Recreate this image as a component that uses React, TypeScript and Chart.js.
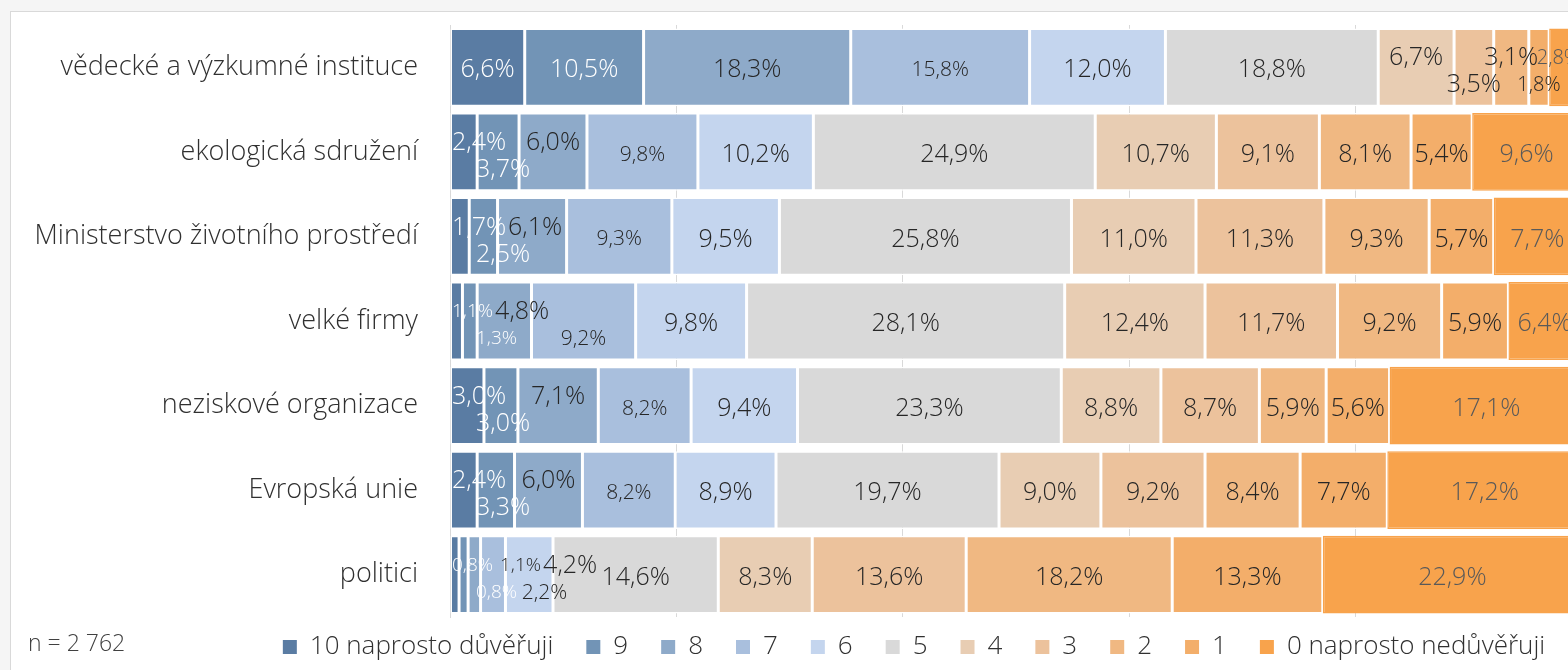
import React, { useEffect, useRef } from "react";
import { Chart, registerables } from "chart.js";

Chart.register(...registerables);

// ---------- data ----------
const categories = [
  "vědecké a výzkumné instituce",
  "ekologická sdružení",
  "Ministerstvo životního prostředí",
  "velké firmy",
  "neziskové organizace",
  "Evropská unie",
  "politici",
];

const seriesNames = [
  "10 naprosto důvěřuji",
  "9",
  "8",
  "7",
  "6",
  "5",
  "4",
  "3",
  "2",
  "1",
  "0 naprosto nedůvěřuji",
];

const s10 = [6.6, 2.4, 1.7, 1.1, 3.0, 2.4, 0.8];
const s9 = [10.5, 3.7, 2.5, 1.3, 3.0, 3.3, 0.8];
const s8 = [18.3, 6.0, 6.1, 4.8, 7.1, 6.0, 1.1];
const s7 = [15.8, 9.8, 9.3, 9.2, 8.2, 8.2, 2.2];
const s6 = [12.0, 10.2, 9.5, 9.8, 9.4, 8.9, 4.2];
const s5 = [18.8, 24.9, 25.8, 28.1, 23.3, 19.7, 14.6];
const s4 = [6.7, 10.7, 11.0, 12.4, 8.8, 9.0, 8.3];
const s3 = [3.5, 9.1, 11.3, 11.7, 8.7, 9.2, 13.6];
const s2 = [3.1, 8.1, 9.3, 9.2, 5.9, 8.4, 18.2];
const s1 = [1.8, 5.4, 5.7, 5.9, 5.6, 7.7, 13.3];
const s0 = [2.8, 9.6, 7.7, 6.4, 17.1, 17.2, 22.9];

const seriesValues = [s10, s9, s8, s7, s6, s5, s4, s3, s2, s1, s0];

const sampleNote = "n = 2 762";

// ---------- styles ----------
const colors = [
  "#5a7ca3",
  "#7294b6",
  "#8eaac9",
  "#a9bfdd",
  "#c4d5ee",
  "#d9d9d9",
  "#e8cdb3",
  "#ecc29c",
  "#f0b882",
  "#f3ae6a",
  "#f8a34c",
];
const labelColors = [
  "#ffffff",
  "#ffffff",
  "#262626",
  "#262626",
  "#262626",
  "#262626",
  "#262626",
  "#262626",
  "#262626",
  "#262626",
  "#595959",
];
const FONT = '"Open Sans", "Noto Sans", sans-serif';
const WEIGHT = "300";

const CANVAS_W = 1806;
const CANVAS_H = 680;

function fmt(v: number) {
  return v.toFixed(1).replace(".", ",") + "%";
}

function labelSize(i: number, v: number) {
  if (v < 1.5) return 19;
  if (i === 3) return 21;
  if (i === 10 && v < 3) return 20;
  if (i === 9 && v < 2) return 20;
  return 25;
}

const segLabels = {
  id: "segLabels",
  afterDatasetsDraw(chart: any) {
    const ctx = chart.ctx;
    const area = chart.chartArea;
    ctx.save();
    ctx.textAlign = "center";
    ctx.textBaseline = "middle";
    for (let r = 0; r < categories.length; r++) {
      const items: any[] = [];
      chart.data.datasets.forEach((ds: any, i: number) => {
        const el = chart.getDatasetMeta(i).data[r];
        const v = ds.data[r];
        const x0 = Math.min(el.x, el.base);
        const x1 = Math.max(el.x, el.base);
        const size = labelSize(i, v);
        ctx.font = `${WEIGHT} ${size}px ${FONT}`;
        const text = fmt(v);
        const w = ctx.measureText(text).width;
        const seg = x1 - x0 - 3;
        items.push({ i, v, text, size, w, cx: (x0 + x1) / 2, y: el.y, overflow: seg < w + 6 });
      });
      const shift = items.map(() => false);
      let k = 0;
      while (k < items.length) {
        if (!items[k].overflow) {
          k++;
          continue;
        }
        let e = k;
        while (e + 1 < items.length && items[e + 1].overflow) e++;
        if (e > k) {
          for (let m = k; m <= e; m++) shift[m] = true;
          if (k - 1 >= 0 && items[k - 1].v < 10) shift[k - 1] = true;
          if (e + 1 < items.length && items[e + 1].v < 10) shift[e + 1] = true;
        }
        k = e + 1;
      }
      const laneRight = [area.left, area.left];
      let prevCx = -Infinity;
      items.forEach((it, idx) => {
        let cx = it.cx;
        let dy = 3;
        if (shift[idx]) {
          const lane = it.i % 2;
          dy = lane === 0 ? -9 : 18;
          cx = Math.max(cx, laneRight[lane] + it.w / 2 + 2, prevCx + 24);
          cx = Math.min(cx, area.right - it.w / 2 - 2);
          laneRight[lane] = cx + it.w / 2;
          prevCx = cx;
        }
        ctx.font = `${WEIGHT} ${it.size}px ${FONT}`;
        ctx.fillStyle = labelColors[it.i];
        ctx.fillText(it.text, cx, it.y + dy);
      });
    }
    ctx.restore();
  },
};

const legendNudge = {
  id: "legendNudge",
  afterLayout(chart: any) {
    const lg = chart.legend;
    if (lg) {
      lg.top -= 16;
      lg.bottom -= 16;
    }
  },
};

const noteText = {
  id: "noteText",
  afterDraw(chart: any) {
    const ctx = chart.ctx;
    ctx.save();
    ctx.font = `${WEIGHT} 23px ${FONT}`;
    ctx.fillStyle = "#404040";
    ctx.textAlign = "left";
    ctx.textBaseline = "middle";
    ctx.fillText(sampleNote, 17, 632);
    ctx.restore();
  },
};

export default function App() {
  const ref = useRef<HTMLCanvasElement>(null);

  useEffect(() => {
    if (!ref.current) return;
    const datasets = seriesNames.map((name, i) => ({
      label: name,
      data: seriesValues[i],
      backgroundColor: colors[i],
      borderColor: i === 10 ? colors[i] : "#ffffff",
      borderWidth: 1.5,
      borderSkipped: false,
      barPercentage: 0.92,
      categoryPercentage: 1,
    }));
    const chart = new Chart(ref.current, {
      type: "bar",
      data: { labels: categories, datasets },
      options: {
        indexAxis: "y",
        responsive: false,
        animation: false,
        devicePixelRatio: 1,
        layout: { padding: { top: 13, bottom: 6, left: 0, right: 0 } },
        scales: {
          x: {
            stacked: true,
            min: 0,
            max: 100,
            ticks: { display: false, stepSize: 20 },
            grid: { color: "#d9d9d9", lineWidth: 1, drawTicks: false },
            border: { display: false },
          },
          y: {
            stacked: true,
            grid: { display: false, drawTicks: false },
            border: { display: true, color: "#d9d9d9", width: 1 },
            ticks: {
              color: "#303030",
              padding: 32,
              font: { family: FONT, size: 27, weight: WEIGHT as any },
            },
            afterFit: (s: any) => {
              s.width = 439;
              s.paddingTop = 0;
              s.paddingBottom = 0;
            },
          },
          yPad: {
            type: "linear",
            axis: "y",
            position: "right",
            display: true,
            grid: { display: false, drawTicks: false },
            border: { display: false },
            ticks: { display: false },
            afterFit: (s: any) => {
              s.width = 235;
              s.paddingTop = 0;
              s.paddingBottom = 0;
            },
          },
        },
        plugins: {
          tooltip: { enabled: false },
          legend: {
            position: "bottom",
            labels: {
              color: "#303030",
              boxWidth: 14,
              boxHeight: 14,
              padding: 33,
              font: { family: FONT, size: 26, weight: WEIGHT as any },
              generateLabels: (c: any) =>
                c.data.datasets.map((ds: any, i: number) => ({
                  text: ds.label,
                  fillStyle: ds.backgroundColor,
                  strokeStyle: ds.backgroundColor,
                  lineWidth: 0,
                  hidden: false,
                  datasetIndex: i,
                  fontColor: "#303030",
                })),
            },
          },
        },
      } as any,
      plugins: [segLabels, legendNudge, noteText],
    });
    return () => chart.destroy();
  }, []);

  return (
    <div style={{ position: "fixed", inset: 0, overflow: "hidden", background: "#f5f5f5" }}>
      <div
        style={{
          position: "absolute",
          left: 10,
          top: 11,
          width: CANVAS_W,
          height: CANVAS_H,
          background: "#ffffff",
          borderLeft: "1px solid #d9d9d9",
          borderTop: "1px solid #d9d9d9",
        }}
      >
        <canvas
          ref={ref}
          width={CANVAS_W}
          height={CANVAS_H}
          style={{ display: "block", width: CANVAS_W, height: CANVAS_H }}
        />
      </div>
    </div>
  );
}
